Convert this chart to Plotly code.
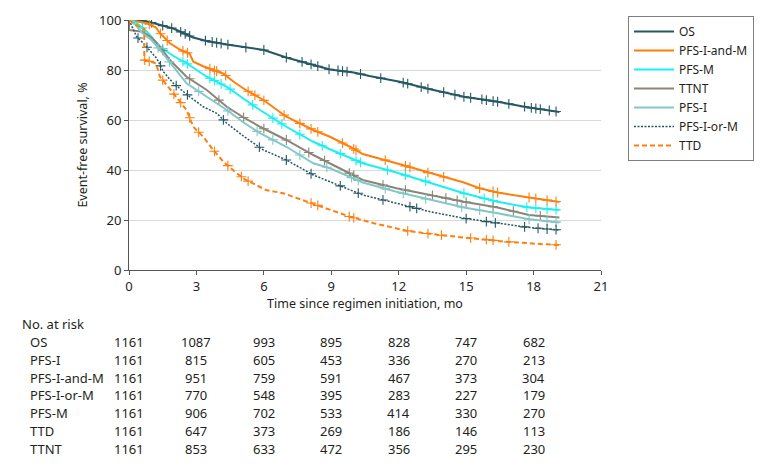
import numpy as np
import plotly.graph_objects as go

# ---------------- data ----------------
series_names = ["OS", "PFS-I-and-M", "PFS-M", "TTNT", "PFS-I", "PFS-I-or-M", "TTD"]

os_t = [0, 0.6, 1.0, 2.0, 2.85, 3.5, 4.5, 5.2, 6.0, 7.0, 8.2, 8.94, 10.0, 10.7, 12.05, 13.4, 14.9, 16.4, 17.8, 19.15]
os_s = [100, 99.7, 99, 96.5, 93, 91.5, 90, 89, 88, 85, 82, 80.2, 79, 77.6, 75.3, 72.3, 69.3, 67.3, 65, 63.2]

pfs_im_t = [0, 0.8, 1.2, 1.38, 1.82, 2.3, 2.7, 2.86, 3.3, 3.75, 4.2, 4.7, 5.2, 5.98, 7.0, 8.2, 8.94, 9.83, 10.4, 11.9, 13.4, 14.9, 15.6, 16.4, 17.8, 19.15]
pfs_im_s = [100, 98.7, 97, 94.7, 90.7, 88, 86.5, 83.3, 81.5, 80, 78.5, 75, 72, 68, 61.3, 56, 53.3, 49.3, 46.4, 42.7, 38.7, 35, 32.7, 31, 29, 27.2]

pfs_m_t = [0, 0.3, 0.8, 1.38, 2.0, 2.56, 3.46, 4.35, 5.1, 5.83, 7.0, 8.2, 8.94, 10.4, 11.9, 13.4, 14.9, 16.4, 17.8, 19.15]
pfs_m_s = [100, 99, 95.3, 89.3, 85.5, 82.7, 77.3, 73.3, 68.5, 64, 57.3, 51.3, 48.3, 42.7, 39, 35, 30.7, 27.3, 25, 24]

ttnt_t = [0, 0, 0.6, 1.0, 1.38, 1.82, 2.56, 3.46, 4.35, 5.1, 5.83, 7.0, 8.2, 8.94, 10.4, 11.9, 13.4, 14.9, 16.4, 17.8, 19.15]
ttnt_s = [100, 96, 95.3, 93, 89.3, 84, 77.3, 72, 65.3, 61, 57.3, 52, 46, 42.7, 36, 32.7, 30, 27.3, 25, 22, 21]

pfs_i_t = [0, 0.3, 0.6, 1.0, 1.38, 1.97, 2.56, 3.46, 4.35, 5.1, 5.83, 7.0, 8.2, 8.94, 10.4, 11.9, 13.4, 14.9, 16.4, 17.8, 19.15]
pfs_i_s = [100, 98, 94.7, 92, 88, 81.3, 74.7, 69.3, 64, 59, 54.7, 49.3, 42.7, 40.7, 35, 31.3, 28, 25, 22.7, 20.3, 19]

pfs_iom_t = [0, 0.34, 0.64, 1.23, 1.53, 1.97, 2.7, 3.3, 3.9, 4.35, 5.1, 5.98, 7.0, 8.2, 8.94, 10.4, 11.9, 13.4, 14.9, 16.4, 17.8, 19.15]
pfs_iom_s = [100, 93.3, 90.7, 84.7, 79.3, 74.7, 69.3, 65.3, 62.7, 58.7, 53.5, 48, 44, 38, 35.3, 30, 26.7, 23.3, 20.7, 18.7, 17, 16]

ttd_t = [0, 0.3, 0.68, 0.68, 1.2, 1.38, 1.97, 2.56, 2.86, 3.3, 3.75, 4.2, 4.79, 5.2, 6.1, 6.86, 8.35, 9.83, 10.9, 12.35, 13.8, 15.3, 16.8, 18.3, 19.15]
ttd_s = [100, 98, 96.5, 84, 82.7, 77.3, 70.7, 64, 57.3, 53.3, 48, 43.3, 38.7, 36, 32, 30.7, 26, 21.3, 18.7, 15.7, 14, 12.7, 11.3, 10.4, 10]

# censoring times (months)
os_c = [0.6, 1.0, 1.5, 1.9, 2.3, 2.5, 2.7, 3.4, 3.7, 3.9, 4.1, 4.4, 5.2, 6.0, 7.0, 7.7, 8.1, 8.4, 8.9, 9.3, 9.5,
        9.7, 10.3, 11.2, 12.2, 12.4, 13.0, 13.3, 14.0, 14.5, 14.9, 15.2, 15.7, 15.9, 16.2, 16.4, 16.9, 17.6,
        17.9, 18.1, 18.3, 18.7, 19.0]
pfs_im_c = [0.9, 1.4, 1.7, 2.4, 2.6, 3.6, 3.8, 3.9, 4.3, 5.3, 5.6, 6.0, 6.9, 7.6, 8.1, 8.4, 9.5, 10.0, 10.1,
            11.4, 12.3, 12.5, 13.3, 14.0, 15.6, 16.2, 16.4, 17.8, 18.1, 18.6, 19.0]
pfs_m_c = [0.6, 1.5, 2.4, 2.6, 3.6, 3.8, 4.1, 4.5, 5.5, 6.4, 6.8, 7.6, 8.6, 9.4, 10.1, 10.3, 11.5, 12.3, 13.2,
           14.9, 15.8, 16.2, 17.7, 18.1, 18.6, 19.0]
ttnt_c = [1.5, 2.7, 4.0, 5.1, 6.0, 7.0, 8.0, 8.7, 9.8, 10.0, 11.3, 12.3, 13.5, 14.1, 14.6, 15.0, 16.2, 17.1, 18.3]
pfs_i_c = [1.3, 1.8, 3.1, 4.4, 5.7, 6.4, 7.6, 8.8, 9.9, 10.2, 11.4, 12.2, 13.2, 14.8, 15.6, 16.2, 17.8, 18.6, 19.0]
pfs_iom_c = [0.4, 0.8, 1.4, 2.1, 2.6, 4.2, 5.8, 7.0, 8.1, 9.4, 10.2, 11.3, 12.5, 12.8, 15.0, 15.9, 16.3, 17.6,
             18.2, 18.6, 19.0]
ttd_c = [0.7, 0.9, 1.5, 2.0, 2.3, 2.7, 3.1, 3.8, 4.4, 5.0, 5.3, 8.1, 8.4, 9.8, 10.0, 12.4, 13.3, 13.9, 15.2,
         15.9, 16.2, 16.9, 19.0]

# number at risk table
risk_times = [0, 3, 6, 9, 12, 15, 18]
risk_rows = ["OS", "PFS-I", "PFS-I-and-M", "PFS-I-or-M", "PFS-M", "TTD", "TTNT"]
risk_os = [1161, 1087, 993, 895, 828, 747, 682]
risk_pfs_i = [1161, 815, 605, 453, 336, 270, 213]
risk_pfs_im = [1161, 951, 759, 591, 467, 373, 304]
risk_pfs_iom = [1161, 770, 548, 395, 283, 227, 179]
risk_pfs_m = [1161, 906, 702, 533, 414, 330, 270]
risk_ttd = [1161, 647, 373, 269, 186, 146, 113]
risk_ttnt = [1161, 853, 633, 472, 356, 295, 230]

x_ticks = [0, 3, 6, 9, 12, 15, 18, 21]
y_ticks = [0, 20, 40, 60, 80, 100]

# ---------------- styles ----------------
styles = {
    "OS": dict(color="#255863", width=2, dash="solid"),
    "PFS-I-and-M": dict(color="#FF7F0E", width=2, dash="solid"),
    "PFS-M": dict(color="#1AF0F2", width=2, dash="solid"),
    "TTNT": dict(color="#8A8677", width=2, dash="solid"),
    "PFS-I": dict(color="#84C7C7", width=2, dash="solid"),
    "PFS-I-or-M": dict(color="#255863", width=1.5, dash="2px,1.5px"),
    "TTD": dict(color="#FF7F0E", width=2, dash="5px,3px"),
}

curves = {
    "OS": (os_t, os_s, os_c),
    "PFS-I-and-M": (pfs_im_t, pfs_im_s, pfs_im_c),
    "PFS-M": (pfs_m_t, pfs_m_s, pfs_m_c),
    "TTNT": (ttnt_t, ttnt_s, ttnt_c),
    "PFS-I": (pfs_i_t, pfs_i_s, pfs_i_c),
    "PFS-I-or-M": (pfs_iom_t, pfs_iom_s, pfs_iom_c),
    "TTD": (ttd_t, ttd_s, ttd_c),
}

FONT = "Noto Sans, DejaVu Sans, sans-serif"
TXT = "#231f20"
fig = go.Figure()

for name in series_names:
    t, s, c = curves[name]
    st = styles[name]
    fig.add_trace(go.Scatter(x=t, y=s, mode="lines", name=name,
                             line=dict(color=st["color"], width=st["width"], dash=st["dash"])))
    # censor marks placed on the drawn curve
    ct = np.array(c)
    cy = np.interp(ct, np.array(t, dtype=float), np.array(s, dtype=float))
    fig.add_trace(go.Scatter(x=ct, y=cy, mode="markers", showlegend=False, hoverinfo="skip",
                             marker=dict(symbol="cross-thin", size=7, color=st["color"],
                                         line=dict(color=st["color"], width=1.1))))

# geometry: page body has an 8px margin, so margins are offset by 8
OFF = 8
PL, PT, PW, PH = 129, 20, 472, 250       # plot area in viewport pixels
L = PL - OFF
T = PT - OFF
R = 780 - L - PW
B = 467 - T - PH


def py(px):
    return (PT + PH - px) / PH


def pxx(px):
    return (px - PL) / PW


risk_vals = [risk_os, risk_pfs_i, risk_pfs_im, risk_pfs_iom, risk_pfs_m, risk_ttd, risk_ttnt]
row_px = [342, 359.7, 377.5, 395.3, 413, 430.8, 448.6]
tfont = dict(family=FONT, size=13, color=TXT)
annotations = [dict(text="No. at risk", x=pxx(20), y=py(324), xref="paper", yref="paper",
                    xanchor="left", yanchor="middle", showarrow=False, font=tfont)]
for r, vals, ypx in zip(risk_rows, risk_vals, row_px):
    annotations.append(dict(text=r, x=pxx(28), y=py(ypx), xref="paper", yref="paper",
                            xanchor="left", yanchor="middle", showarrow=False, font=tfont))
    for tt, v in zip(risk_times, vals):
        annotations.append(dict(text=str(v), x=tt, y=py(ypx), xref="x", yref="paper",
                                xanchor="center", yanchor="middle", showarrow=False, font=tfont))

fig.update_layout(
    width=780, height=467,
    margin=dict(l=L, r=R, t=T, b=B, autoexpand=False),
    paper_bgcolor="white", plot_bgcolor="white",
    font=dict(family=FONT, size=12, color=TXT),
    annotations=annotations,
    legend=dict(x=pxx(628), y=py(16), xanchor="left", yanchor="top",
                bgcolor="white", bordercolor="#7f7f7f", borderwidth=1,
                font=dict(family=FONT, size=12, color=TXT),
                tracegroupgap=0, itemwidth=40, traceorder="normal"),
    xaxis=dict(range=[0, 21], tickvals=x_ticks, ticktext=[str(v) for v in x_ticks],
               showgrid=False, zeroline=False, showline=True, linecolor="#555", linewidth=1,
               ticks="outside", ticklen=4, tickcolor="#555", tickfont=dict(size=13),
               title=dict(text="Time since regimen initiation, mo", standoff=4,
                          font=dict(family=FONT, size=12.5, color=TXT))),
    yaxis=dict(range=[0, 100], tickvals=y_ticks, showgrid=True, gridcolor="#d9d9d9", gridwidth=1,
               zeroline=False, showline=True, linecolor="#555", linewidth=1,
               ticks="outside", ticklen=4, tickcolor="#555", tickfont=dict(size=13),
               title=dict(text="Event-free survival, %", standoff=8,
                          font=dict(family=FONT, size=12.5, color=TXT))),
)

fig.write_html("out.html")
